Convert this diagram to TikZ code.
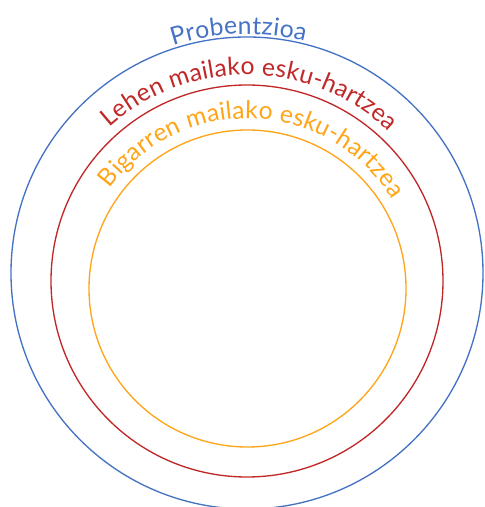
\documentclass[tikz,border=0pt]{standalone}
\usepackage{fontspec}
\setmainfont{Lato}
\usetikzlibrary{decorations.text}

\definecolor{provblue}{RGB}{68,114,196}
\definecolor{firstred}{RGB}{192,40,40}
\definecolor{secondorange}{RGB}{255,165,25}

\tikzset{every picture/.style={line width=0.75pt}}
\tikzset{
  ring/.style={line width=1pt},
  ringtext/.style={decorate, decoration={text along path, text align=fit to path, text={#1}}}
}
\newcommand{\ringfont}{\fontsize{18.5}{22}\selectfont}

\begin{document}
\begin{tikzpicture}[x=0.75pt,y=0.75pt]
\useasboundingbox (0,0) rectangle (485,507);

% centres of the three rings
\coordinate (cprov) at (247,234);
\coordinate (cfirst) at (247,226);
\coordinate (csecond) at (247.5,218.5);

%Shape: Circle [Probentzioa]
\draw [ring, provblue] (cprov) circle (236);
%Shape: Circle [Lehen mailako]
\draw [ring, firstred] (cfirst) circle (196);
%Shape: Circle [Bigarren mailako]
\draw [ring, secondorange] (csecond) circle (158.5);

% Text Node
\path [ringtext={|\ringfont\color{provblue}|Probentzioa}]
  ([shift={(108:239)}]cprov) arc (108:76:239);
% Text Node
\path [ringtext={|\ringfont\color{firstred}|Lehen mailako esku-hartzea}]
  ([shift={(132:206)}]cfirst) arc (132:46.5:206);
% Text Node
\path [ringtext={|\ringfont\color{secondorange}|Bigarren mailako esku-hartzea}]
  ([shift={(144:170)}]csecond) arc (144:31.6:170);

\end{tikzpicture}
\end{document}
